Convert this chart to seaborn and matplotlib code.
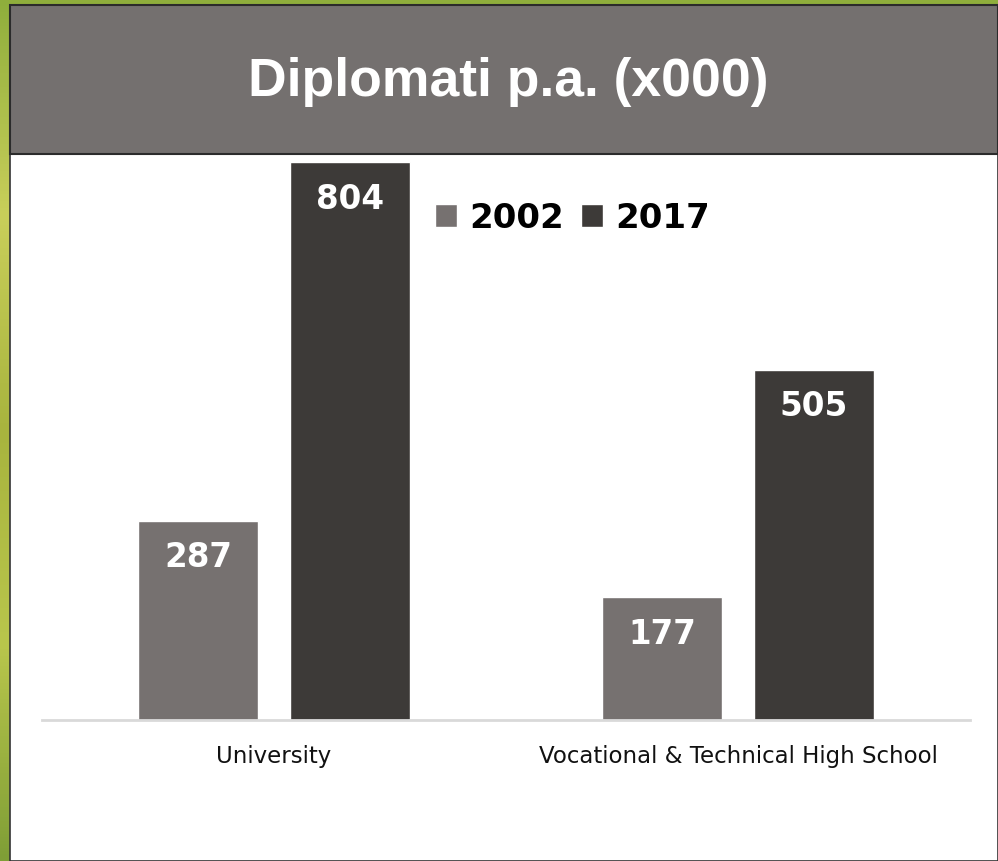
import numpy as np
import pandas as pd
import matplotlib
matplotlib.use("Agg")
import matplotlib.pyplot as plt
import seaborn as sns
from matplotlib import font_manager
from matplotlib.patches import Rectangle
from matplotlib.colors import LinearSegmentedColormap

# data
categories = ["University", "Vocational & Technical High School"]
years = ["2002", "2017"]
values_2002 = [287, 177]
values_2017 = [804, 505]
bar_colors = ["#767170", "#3d3a38"]
title = "Diplomati p.a. (x000)"

df = pd.DataFrame({
    "category": categories * 2,
    "year": [years[0]] * 2 + [years[1]] * 2,
    "value": values_2002 + values_2017,
})

# Liberation Sans Bold for the title (Arial look)
arial_bold = None
for f in font_manager.findSystemFonts():
    if f.endswith("LiberationSans-Bold.ttf"):
        arial_bold = f
        break

def title_prop(size):
    if arial_bold:
        return font_manager.FontProperties(fname=arial_bold, size=size)
    return font_manager.FontProperties(family="DejaVu Sans", weight="bold", size=size)

sns.set_theme(style="white")
plt.rcParams["font.family"] = ["DejaVu Sans"]

W, H = 998, 862
fig = plt.figure(figsize=(W / 100, H / 100), dpi=100)
fig.patch.set_facecolor("white")

# green background frame (left + top strip)
bg = fig.add_axes([0, 0, 1, 1], zorder=-5)
grad = np.linspace(0, 1, 256).reshape(-1, 1)
green = LinearSegmentedColormap.from_list("g", ["#8fae3c", "#c9cf5a", "#a8b43e", "#b9c64c", "#7f9e36"])
bg.imshow(grad, aspect="auto", cmap=green, extent=[0, 1, 0, 1])
bg.set_axis_off()

# white panel
fig.patches.append(Rectangle((10 / W, 0), 1 - 10 / W, 1 - 6 / H, transform=fig.transFigure,
                             facecolor="white", edgecolor="#333333", lw=1.2, zorder=-4))
# title banner
fig.patches.append(Rectangle((10 / W, 1 - 155 / H), 1 - 10 / W, 149 / H, transform=fig.transFigure,
                             facecolor="#74706f", edgecolor="#2b2b2b", lw=1.5, zorder=-3))
fig.text(508 / W, 1 - 82 / H, title, color="white", fontproperties=title_prop(38.5),
         ha="center", va="center")

ax = fig.add_axes([42 / W, 141 / H, 928 / W, 580 / H])
ax.patch.set_alpha(0)
sns.barplot(data=df, x="category", y="value", hue="year", palette=bar_colors,
            width=0.655, gap=0.21, ax=ax, saturation=1)
ax.set_xlim(-0.5, 1.5)
ax.set_ylim(0, 836)
ax.set_xlabel("")
ax.set_ylabel("")
ax.set_yticks([])
for s in ["top", "right", "left"]:
    ax.spines[s].set_visible(False)
ax.spines["bottom"].set_color("#d9d9d9")
ax.spines["bottom"].set_linewidth(2)
ax.tick_params(axis="x", length=0, pad=17, labelsize=16.5, labelcolor="#111111")

for cont in ax.containers:
    for bar in cont:
        h = bar.get_height()
        ax.annotate(f"{h:.0f}", (bar.get_x() + bar.get_width() / 2, h),
                    xytext=(0, -36), textcoords="offset pixels",
                    ha="center", va="center", color="white",
                    fontsize=23.5, fontweight="bold")

handles, labels = ax.get_legend_handles_labels()
leg = ax.legend(handles, labels, loc="center left", bbox_to_anchor=(435 / W, 1 - 219 / H),
                bbox_transform=fig.transFigure, ncol=2, frameon=False,
                prop={"family": "DejaVu Sans", "weight": "bold", "size": 24.5},
                handlelength=0.65, handleheight=0.65, handletextpad=0.35, columnspacing=0.5,
                borderaxespad=0, borderpad=0)
for t in leg.get_texts():
    t.set_color("black")

fig.savefig("out.png", dpi=100)
